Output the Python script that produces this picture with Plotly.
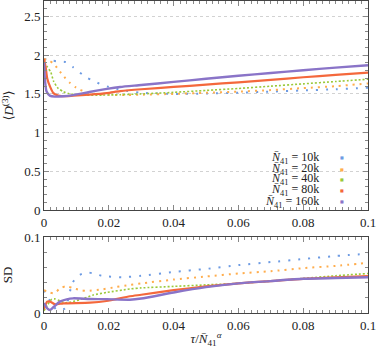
import plotly.graph_objects as go

# top panel: <D^(3)> versus tau / N41^alpha
x_blue_d = [0, 0.0024, 0.0044, 0.0068, 0.0088, 0.0109, 0.0132, 0.0152, 0.0178, 0.02, 0.024, 0.03, 0.035, 0.04, 0.05, 0.06, 0.07, 0.08, 0.09, 0.1]
y_blue_d = [1.95, 1.93, 1.92, 1.91, 1.85, 1.78, 1.71, 1.67, 1.62, 1.59, 1.55, 1.515, 1.505, 1.50, 1.505, 1.515, 1.53, 1.545, 1.56, 1.58]

x_orange_d = [0, 0.0016, 0.003, 0.0049, 0.0062, 0.0078, 0.0096, 0.0111, 0.0132, 0.016, 0.02, 0.025, 0.03, 0.04, 0.05, 0.06, 0.07, 0.08, 0.09, 0.1]
y_orange_d = [1.95, 1.93, 1.89, 1.79, 1.72, 1.65, 1.59, 1.555, 1.52, 1.50, 1.49, 1.485, 1.49, 1.50, 1.515, 1.53, 1.55, 1.575, 1.60, 1.635]

x_green_d = [0, 0.001, 0.0021, 0.003, 0.0044, 0.006, 0.0075, 0.01, 0.013, 0.018, 0.0235, 0.03, 0.04, 0.05, 0.06, 0.07, 0.08, 0.09, 0.1]
y_green_d = [1.90, 1.85, 1.78, 1.66, 1.57, 1.53, 1.505, 1.49, 1.485, 1.485, 1.49, 1.50, 1.52, 1.545, 1.57, 1.60, 1.63, 1.66, 1.69]

x_red_d = [0, 0.0005, 0.001, 0.0019, 0.0029, 0.0044, 0.007, 0.009, 0.014, 0.0194, 0.0235, 0.03, 0.04, 0.05, 0.06, 0.07, 0.08, 0.09, 0.1]
y_red_d = [1.95, 1.85, 1.70, 1.59, 1.51, 1.478, 1.47, 1.476, 1.49, 1.51, 1.535, 1.56, 1.59, 1.62, 1.65, 1.68, 1.715, 1.745, 1.775]

x_purple_d = [0, 0.0003, 0.0008, 0.0019, 0.0034, 0.006, 0.009, 0.014, 0.0194, 0.0235, 0.03, 0.04, 0.05, 0.06, 0.07, 0.08, 0.09, 0.1]
y_purple_d = [1.90, 1.68, 1.53, 1.475, 1.465, 1.47, 1.485, 1.525, 1.565, 1.59, 1.615, 1.655, 1.695, 1.735, 1.77, 1.805, 1.84, 1.87]

# bottom panel: SD
x_blue_s = [0, 0.002, 0.004, 0.0065, 0.0088, 0.011, 0.0132, 0.0152, 0.0178, 0.02, 0.024, 0.03, 0.04, 0.05, 0.06, 0.07, 0.08, 0.09, 0.1]
y_blue_s = [0.030, 0.015, 0.004, 0.006, 0.040, 0.050, 0.0535, 0.052, 0.049, 0.048, 0.047, 0.049, 0.054, 0.058, 0.063, 0.067, 0.071, 0.075, 0.078]

x_orange_s = [0, 0.001, 0.003, 0.0049, 0.0068, 0.009, 0.0116, 0.0132, 0.0178, 0.022, 0.0265, 0.03, 0.04, 0.05, 0.06, 0.07, 0.08, 0.09, 0.1]
y_orange_s = [0.030, 0.028, 0.026, 0.032, 0.0355, 0.0325, 0.030, 0.029, 0.031, 0.034, 0.037, 0.039, 0.044, 0.048, 0.052, 0.055, 0.059, 0.062, 0.066]

x_green_s = [0, 0.001, 0.0024, 0.0034, 0.0049, 0.0065, 0.009, 0.0121, 0.0152, 0.0193, 0.0265, 0.03, 0.04, 0.05, 0.06, 0.07, 0.08, 0.09, 0.1]
y_green_s = [0.003, 0.010, 0.018, 0.0185, 0.016, 0.0136, 0.015, 0.019, 0.0237, 0.027, 0.0316, 0.033, 0.035, 0.037, 0.039, 0.042, 0.0455, 0.049, 0.052]

x_red_s = [0, 0.001, 0.0019, 0.0034, 0.006, 0.0142, 0.0193, 0.0265, 0.03, 0.04, 0.05, 0.06, 0.07, 0.08, 0.09, 0.1]
y_red_s = [0.005, 0.015, 0.015, 0.0115, 0.0127, 0.0136, 0.0158, 0.022, 0.024, 0.030, 0.035, 0.039, 0.042, 0.045, 0.047, 0.0487]

x_purple_s = [0, 0.001, 0.0019, 0.003, 0.0049, 0.007, 0.009, 0.0142, 0.0193, 0.0265, 0.03, 0.04, 0.05, 0.06, 0.07, 0.08, 0.09, 0.1]
y_purple_s = [0.013, 0.006, 0.004, 0.008, 0.015, 0.018, 0.0193, 0.0184, 0.0182, 0.0175, 0.019, 0.027, 0.034, 0.039, 0.042, 0.045, 0.046, 0.047]

sizes = ["10k", "20k", "40k", "80k", "160k"]
colors = ["#6d9be3", "#ffad4d", "#9bc93a", "#f4683c", "#8a74c8"]
dashes = ["2px,8px", "2px,5px", "2px,2px", "solid", "solid"]
widths = [2, 2, 1.6, 2.2, 2.4]

top = [(x_blue_d, y_blue_d), (x_orange_d, y_orange_d), (x_green_d, y_green_d),
       (x_red_d, y_red_d), (x_purple_d, y_purple_d)]
bot = [(x_blue_s, y_blue_s), (x_orange_s, y_orange_s), (x_green_s, y_green_s),
       (x_red_s, y_red_s), (x_purple_s, y_purple_s)]

fig = go.Figure()
for i in range(5):
    line = dict(color=colors[i], width=widths[i], dash=dashes[i], shape="spline", smoothing=0.6)
    fig.add_trace(go.Scatter(x=top[i][0], y=top[i][1], mode="lines", name=sizes[i],
                             line=line, xaxis="x", yaxis="y", showlegend=False))
    fig.add_trace(go.Scatter(x=bot[i][0], y=bot[i][1], mode="lines", showlegend=False,
                             line=line, xaxis="x2", yaxis="y2"))

serif = "Liberation Serif, DejaVu Serif, serif"
font = dict(family=serif, size=13, color="#222")
axis_common = dict(showline=True, linecolor="#444", linewidth=1, mirror="ticks",
                   ticks="inside", ticklen=5, tickcolor="#888", zeroline=False,
                   tickfont=font, automargin=False)
xticks = dict(range=[0, 0.1], tickvals=[0, 0.02, 0.04, 0.06, 0.08, 0.1],
              ticktext=["0", "0.02", "0.04", "0.06", "0.08", "0.1"],
              minor=dict(ticks="inside", ticklen=3, dtick=0.002, tickcolor="#888"),
              showgrid=False)

# key drawn as text, right-aligned with a small coloured mark after it (as in the original)
legend_rows = [0.497, 0.4615, 0.428, 0.393, 0.356]
annotations = []
for i in range(5):
    annotations.append(dict(xref="paper", yref="paper", x=0.855, y=legend_rows[i],
                            xanchor="right", yanchor="middle", showarrow=False,
                            text="<i>N̄</i><sub>41</sub> = " + sizes[i],
                            font=dict(family=serif, size=12, color="#222")))
    annotations.append(dict(xref="paper", yref="paper", x=0.92, y=legend_rows[i],
                            xanchor="center", yanchor="middle", showarrow=False,
                            text="■", font=dict(family="DejaVu Sans", size=4, color=colors[i])))

fig.update_layout(
    width=387, height=349,
    margin=dict(l=44, r=19, t=1, b=36),
    plot_bgcolor="white", paper_bgcolor="white",
    font=font,
    showlegend=False,
    annotations=annotations,
    xaxis=dict(**axis_common, **xticks, domain=[0, 1], anchor="y"),
    yaxis=dict(**axis_common, domain=[0.33, 1.0], range=[0, 2.7],
               tickvals=[0, 0.5, 1, 1.5, 2, 2.5], ticktext=["0", "0.5", "1", "1.5", "2", "2.5"],
               showgrid=True, gridcolor="#d2d2d2", griddash="dot", gridwidth=1,
               minor=dict(ticks="inside", ticklen=3, dtick=0.1, tickcolor="#888", showgrid=False),
               title=dict(text="⟨<i>D</i><sup>(3)</sup>⟩", font=font, standoff=10)),
    xaxis2=dict(**axis_common, **xticks, domain=[0, 1], anchor="y2",
                title=dict(text="<i>τ</i>/<i>N̄</i><sub>41</sub><sup><i>α</i></sup>", font=font, standoff=2)),
    yaxis2=dict(**axis_common, domain=[0, 0.2436], range=[0, 0.1],
                tickvals=[0, 0.1], ticktext=["0", "0.1"], showgrid=False,
                minor=dict(ticks="inside", ticklen=3, dtick=0.02, tickcolor="#888"),
                title=dict(text="SD", font=font, standoff=10)),
)

# the page's default body margin would push the figure off the window
fig.write_html("out.html", config={"displayModeBar": False},
               post_script="document.body.style.margin='0';")
